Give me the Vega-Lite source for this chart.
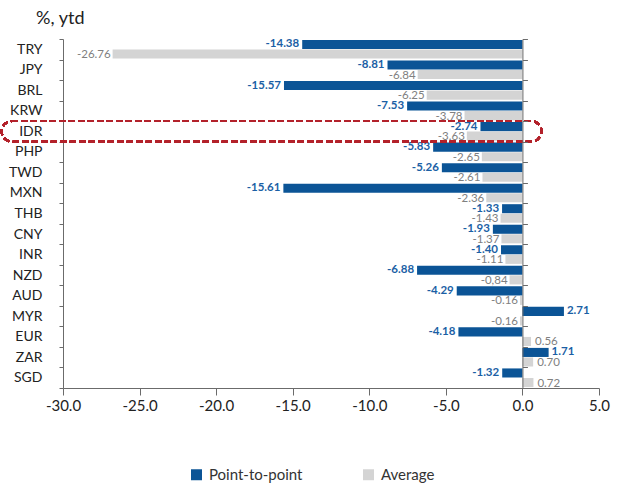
{
  "$schema": "https://vega.github.io/schema/vega-lite/v6.json",
  "width": 536,
  "height": 349,
  "autosize": {"type": "none"},
  "padding": {"left": 63, "top": 39, "right": 22, "bottom": 99},
  "background": "white",
  "title": {
    "text": "%, ytd",
    "anchor": "start",
    "frame": "group",
    "dx": -27,
    "offset": 4,
    "font": "Lato",
    "fontSize": 18,
    "fontWeight": "normal",
    "color": "#222222"
  },
  "config": {
    "view": {"stroke": null},
    "font": "Lato",
    "axis": {"grid": false, "domainColor": "#6b6b6b", "tickColor": "#6b6b6b", "labelFont": "Lato", "labelColor": "#222222"}
  },
  "data": {
    "values": [
      {"cur": "TRY", "series": "Point-to-point", "value": -14.38, "label": "-14.38"},
      {"cur": "TRY", "series": "Average", "value": -26.76, "label": "-26.76"},
      {"cur": "JPY", "series": "Point-to-point", "value": -8.81, "label": "-8.81"},
      {"cur": "JPY", "series": "Average", "value": -6.84, "label": "-6.84"},
      {"cur": "BRL", "series": "Point-to-point", "value": -15.57, "label": "-15.57"},
      {"cur": "BRL", "series": "Average", "value": -6.25, "label": "-6.25"},
      {"cur": "KRW", "series": "Point-to-point", "value": -7.53, "label": "-7.53"},
      {"cur": "KRW", "series": "Average", "value": -3.78, "label": "-3.78"},
      {"cur": "IDR", "series": "Point-to-point", "value": -2.74, "label": "-2.74"},
      {"cur": "IDR", "series": "Average", "value": -3.63, "label": "-3.63"},
      {"cur": "PHP", "series": "Point-to-point", "value": -5.83, "label": "-5.83"},
      {"cur": "PHP", "series": "Average", "value": -2.65, "label": "-2.65"},
      {"cur": "TWD", "series": "Point-to-point", "value": -5.26, "label": "-5.26"},
      {"cur": "TWD", "series": "Average", "value": -2.61, "label": "-2.61"},
      {"cur": "MXN", "series": "Point-to-point", "value": -15.61, "label": "-15.61"},
      {"cur": "MXN", "series": "Average", "value": -2.36, "label": "-2.36"},
      {"cur": "THB", "series": "Point-to-point", "value": -1.33, "label": "-1.33"},
      {"cur": "THB", "series": "Average", "value": -1.43, "label": "-1.43"},
      {"cur": "CNY", "series": "Point-to-point", "value": -1.93, "label": "-1.93"},
      {"cur": "CNY", "series": "Average", "value": -1.37, "label": "-1.37"},
      {"cur": "INR", "series": "Point-to-point", "value": -1.40, "label": "-1.40"},
      {"cur": "INR", "series": "Average", "value": -1.11, "label": "-1.11"},
      {"cur": "NZD", "series": "Point-to-point", "value": -6.88, "label": "-6.88"},
      {"cur": "NZD", "series": "Average", "value": -0.84, "label": "-0,84"},
      {"cur": "AUD", "series": "Point-to-point", "value": -4.29, "label": "-4.29"},
      {"cur": "AUD", "series": "Average", "value": -0.16, "label": "-0.16"},
      {"cur": "MYR", "series": "Point-to-point", "value": 2.71, "label": "2.71"},
      {"cur": "MYR", "series": "Average", "value": -0.16, "label": "-0.16"},
      {"cur": "EUR", "series": "Point-to-point", "value": -4.18, "label": "-4.18"},
      {"cur": "EUR", "series": "Average", "value": 0.56, "label": "0.56"},
      {"cur": "ZAR", "series": "Point-to-point", "value": 1.71, "label": "1.71"},
      {"cur": "ZAR", "series": "Average", "value": 0.70, "label": "0.70"},
      {"cur": "SGD", "series": "Point-to-point", "value": -1.32, "label": "-1.32"},
      {"cur": "SGD", "series": "Average", "value": 0.72, "label": "0.72"}
    ]
  },
  "layer": [
    {
      "mark": {"type": "bar"},
      "encoding": {
        "y": {
          "field": "cur", "type": "nominal",
          "scale": {"domain": ["TRY","JPY","BRL","KRW","IDR","PHP","TWD","MXN","THB","CNY","INR","NZD","AUD","MYR","EUR","ZAR","SGD"], "paddingInner": 0, "paddingOuter": 0},
          "axis": {"orient": "left", "title": null, "tickBand": "extent", "tickSize": 4, "labelFontSize": 14, "labelPadding": 17, "labelColor": "#222222"}
        },
        "yOffset": {"field": "series", "type": "nominal", "scale": {"domain": ["Point-to-point", "Average"], "paddingInner": 0.05, "paddingOuter": 0.1}},
        "x": {
          "field": "value", "type": "quantitative",
          "scale": {"domain": [-30, 5], "nice": false},
          "axis": {"title": null, "values": [-30, -25, -20, -15, -10, -5, 0, 5], "labelExpr": "replace(format(datum.value, '.1f'), '\u2212', '-')", "labelFlush": false, "labelOverlap": false, "labelFontSize": 15, "tickSize": 7, "labelPadding": 3}
        },
        "color": {
          "field": "series", "type": "nominal",
          "scale": {"domain": ["Point-to-point", "Average"], "range": ["#0b5496", "#d4d4d4"]},
          "legend": {"orient": "none", "legendX": 126, "legendY": 428, "direction": "horizontal", "title": null, "symbolType": "square", "symbolSize": 121, "symbolStrokeWidth": 0, "labelFont": "Lato", "labelFontSize": 15, "labelColor": "#333333", "columnPadding": 58, "labelOffset": 5}
        }
      }
    },
    {
      "transform": [{"filter": "datum.series === 'Point-to-point' && datum.value < 0"}],
      "mark": {"type": "text", "align": "right", "baseline": "middle", "dx": -3, "font": "Lato", "fontSize": 11.5, "fontWeight": "bold", "color": "#1b5fa5"},
      "encoding": {
        "y": {"field": "cur", "type": "nominal", "axis": null},
        "yOffset": {"field": "series", "type": "nominal"},
        "x": {"field": "value", "type": "quantitative"},
        "text": {"field": "label"}
      }
    },
    {
      "transform": [{"filter": "datum.series === 'Point-to-point' && datum.value >= 0"}],
      "mark": {"type": "text", "align": "left", "baseline": "middle", "dx": 3, "font": "Lato", "fontSize": 11.5, "fontWeight": "bold", "color": "#1b5fa5"},
      "encoding": {
        "y": {"field": "cur", "type": "nominal", "axis": null},
        "yOffset": {"field": "series", "type": "nominal"},
        "x": {"field": "value", "type": "quantitative"},
        "text": {"field": "label"}
      }
    },
    {
      "transform": [{"filter": "datum.series === 'Average' && datum.value < 0"}],
      "mark": {"type": "text", "align": "right", "baseline": "middle", "dx": -2, "dy": 1, "font": "Lato", "fontSize": 11.5, "color": "#808080"},
      "encoding": {
        "y": {
          "field": "cur", "type": "nominal",
          "axis": {"orient": "right", "offset": -76.57, "labels": false, "title": null, "tickBand": "extent", "tickSize": 5, "zindex": 1}
        },
        "yOffset": {"field": "series", "type": "nominal"},
        "x": {"field": "value", "type": "quantitative"},
        "text": {"field": "label"}
      }
    },
    {
      "transform": [{"filter": "datum.series === 'Average' && datum.value >= 0"}],
      "mark": {"type": "text", "align": "left", "baseline": "middle", "dx": 4, "dy": 1, "font": "Lato", "fontSize": 11.5, "color": "#808080"},
      "encoding": {
        "y": {"field": "cur", "type": "nominal", "axis": null},
        "yOffset": {"field": "series", "type": "nominal"},
        "x": {"field": "value", "type": "quantitative"},
        "text": {"field": "label"}
      }
    },
    {
      "mark": {"type": "rect", "fill": null, "fillOpacity": 0, "stroke": "#b3222b", "strokeWidth": 2, "strokeDash": [6, 3.5], "cornerRadius": 10},
      "encoding": {
        "y": {"datum": "IDR", "type": "nominal", "axis": null},
        "x": {"datum": -34.0, "type": "quantitative"},
        "x2": {"datum": 1.24}
      }
    }
  ],
  "resolve": {"axis": {"y": "independent"}}
}
